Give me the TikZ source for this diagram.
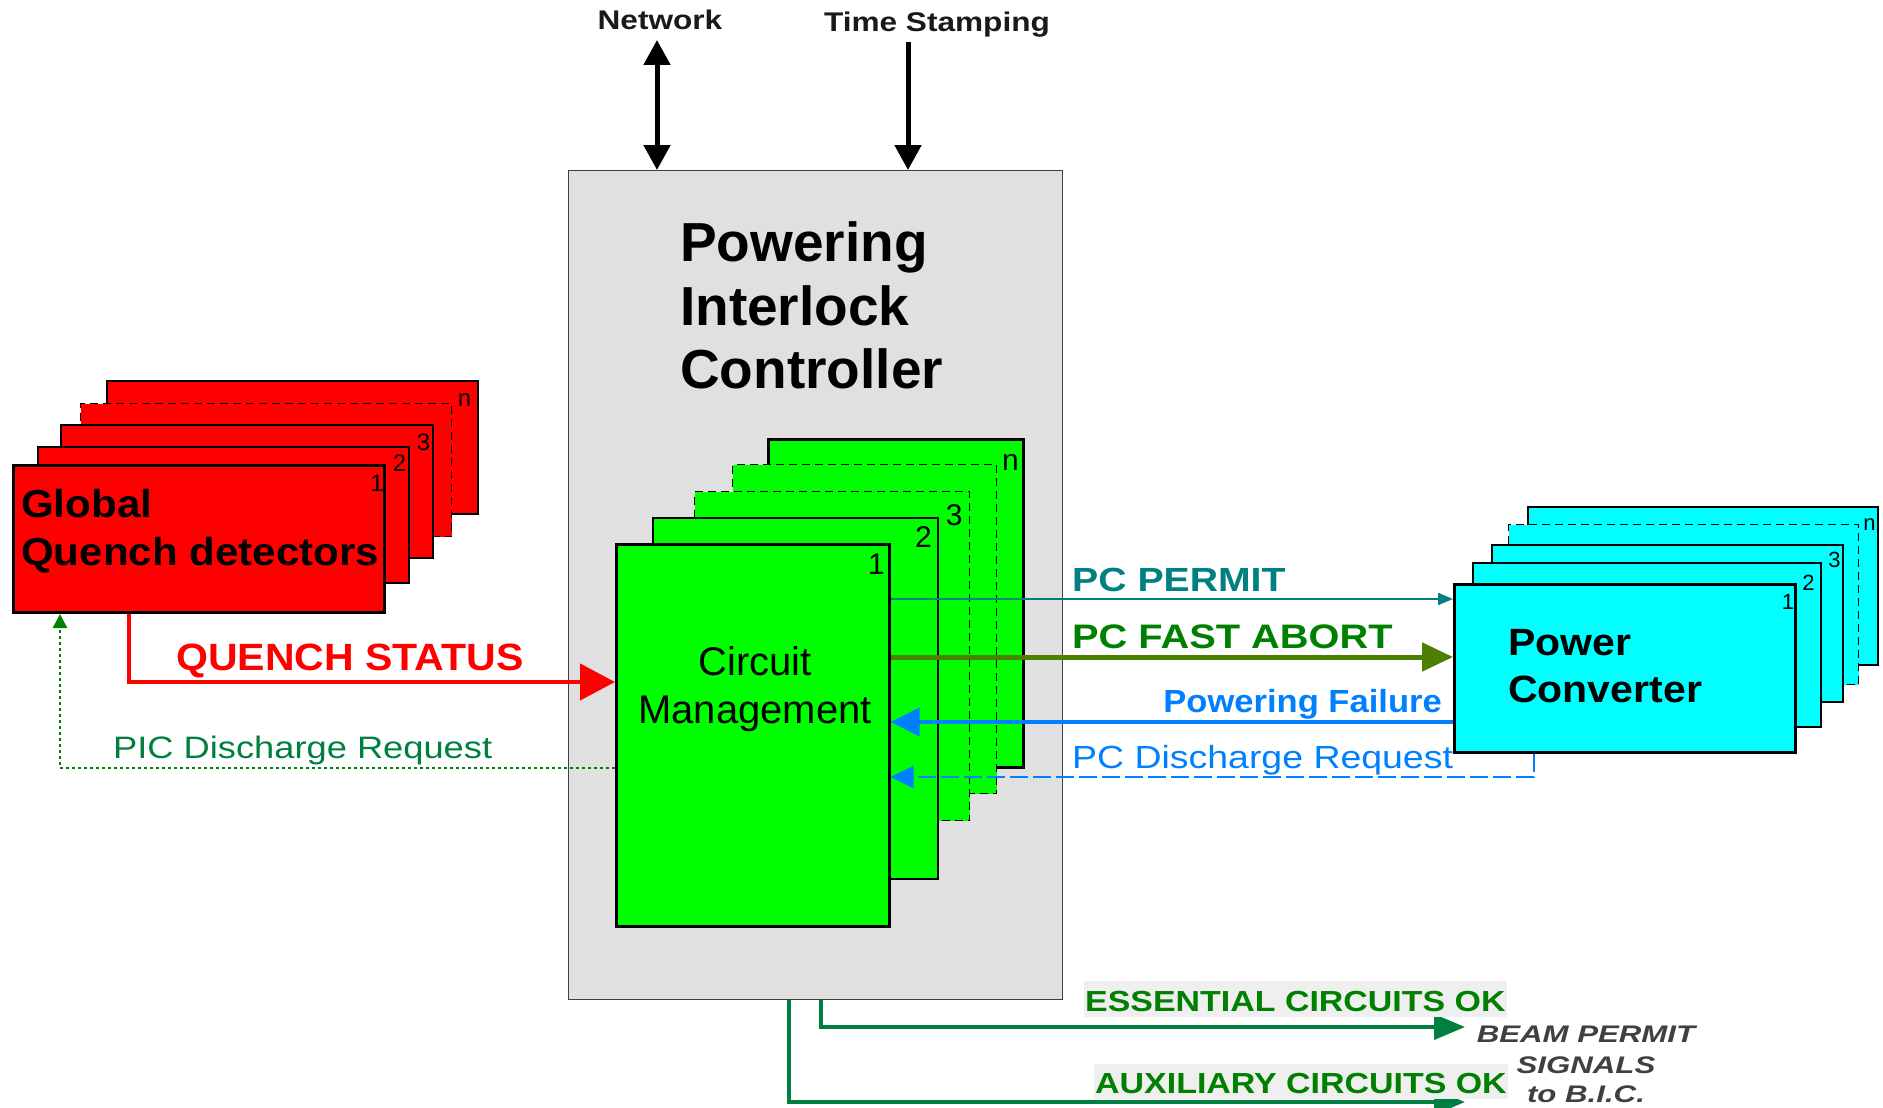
\documentclass[tikz,border=0pt]{standalone}
\usepackage{fontspec}
\setmainfont{Liberation Sans}
\newfontfamily\fwideA[FakeStretch=1.08]{Liberation Sans}
\newfontfamily\fwideB[FakeStretch=1.17]{Liberation Sans}
\newfontfamily\fwideC[FakeStretch=1.3]{Liberation Sans}
\usepackage{tikz}
\usetikzlibrary{arrows.meta,positioning}
\definecolor{qdred}{HTML}{FF0000}
\definecolor{cmgreen}{HTML}{00FF00}
\definecolor{pccyan}{HTML}{00FFFF}
\definecolor{picgray}{HTML}{E0E0E0}
\definecolor{permitteal}{HTML}{008080}
\definecolor{abortolive}{HTML}{4D8000}
\definecolor{aborttext}{HTML}{008000}
\definecolor{failblue}{HTML}{0080FF}
\definecolor{dotgreen}{HTML}{008000}
\definecolor{picgreen}{HTML}{008040}
\definecolor{okgreen}{HTML}{008040}
\definecolor{oktext}{HTML}{008000}
\definecolor{okbg}{HTML}{EFEFEF}
\definecolor{bicgray}{HTML}{404040}
\definecolor{toptext}{HTML}{1A1A1A}
\tikzset{>=Triangle,
	picbox/.style={draw=black!75,fill=picgray,line width=1.2pt,anchor=north west,inner sep=0pt},
	qdbox/.style={draw=black,fill=qdred,line width=1.5pt,anchor=north west,inner sep=0pt},
	cmbox/.style={draw=black,fill=cmgreen,line width=1.5pt,anchor=north west,inner sep=0pt},
	pcbox/.style={draw=black,fill=pccyan,line width=1.5pt,anchor=north west,inner sep=0pt},
	frontbox/.style={line width=3pt},
	dashedbox/.style={line width=1.2pt,dash pattern=on 8pt off 5pt},
	qdtag/.style={inner sep=0pt,font=\fontsize{24}{28}\selectfont},
	cmtag/.style={inner sep=0pt,font=\fontsize{30}{34}\selectfont},
	pctag/.style={inner sep=0pt,font=\fontsize{22}{26}\selectfont},
	lbl/.style={inner sep=0pt,anchor=base west},
	okbox/.style={fill=okbg,text=oktext,anchor=base west,inner xsep=1pt,inner ysep=0pt,
		font=\fwideB\bfseries\fontsize{29}{34}\selectfont},
	netarrow/.style={draw=black,line width=5pt,{Triangle[length=25pt,width=26pt]}-{Triangle[length=25pt,width=26pt]}},
	tsarrow/.style={draw=black,line width=5pt,-{Triangle[length=25pt,width=26pt]}},
	quench/.style={draw=qdred,line width=4.5pt,-{Triangle[length=35pt,width=36pt]}},
	picreq/.style={draw=dotgreen,line width=2.5pt,dash pattern=on 3pt off 3pt,-{Triangle[length=14pt,width=14pt]}},
	permit/.style={draw=permitteal,line width=2pt,-{Triangle[length=15pt,width=12pt]}},
	abort/.style={draw=abortolive,line width=5pt,-{Triangle[length=31pt,width=28pt]}},
	failure/.style={draw=failblue,line width=4pt,-{Triangle[length=29pt,width=28pt]}},
	pcreq/.style={draw=failblue,line width=2.5pt,dash pattern=on 18pt off 5pt,-{Triangle[length=23pt,width=22pt]}},
	okline/.style={draw=okgreen,line width=4pt,-{Triangle[length=31pt,width=25pt]}}}
\begin{document}
\begin{tikzpicture}[x=1pt,y=-1pt]
	\useasboundingbox (0,0) rectangle (1883,1108);
	\fill [white] (0,0) rectangle (1883,1108);
	% controller
	\node (pic) at (568,170) [picbox, minimum width=494pt, minimum height=829pt] {};
	\node (title1) at (680,261) [lbl, font=\bfseries\fontsize{55}{64}\selectfont] {Powering};
	\node (title2) at (680,325) [lbl, font=\bfseries\fontsize{55}{64}\selectfont] {Interlock};
	\node (title3) at (680,388) [lbl, font=\bfseries\fontsize{55}{64}\selectfont] {Controller};
	% quench detectors
	\node (qdn) at (106,380) [qdbox, minimum width=371pt, minimum height=133pt] {};
	\node (qd4) at (80,403) [qdbox, dashedbox, minimum width=371pt, minimum height=133pt] {};
	\node (qd3) at (60,424) [qdbox, minimum width=372pt, minimum height=133pt] {};
	\node (qd2) at (37,446) [qdbox, minimum width=371pt, minimum height=136pt] {};
	\node (qd1) at (12,464) [qdbox, frontbox, minimum width=371pt, minimum height=147pt] {};
	\node (qd1tag) at ([xshift=-9pt,yshift=-19pt]qd1.north east) [qdtag] {1};
	\node (qd2tag) at ([xshift=-10pt,yshift=-17pt]qd2.north east) [qdtag] {2};
	\node (qd3tag) at ([xshift=-10pt,yshift=-18pt]qd3.north east) [qdtag] {3};
	\node (qdntag) at ([xshift=-14pt,yshift=-20pt]qdn.north east) [qdtag] {n};
	\node (qdtxt1) at (21,517) [lbl, font=\fwideA\bfseries\fontsize{39}{47}\selectfont] {Global};
	\node (qdtxt2) at (21,565) [lbl, font=\fwideA\bfseries\fontsize{39}{47}\selectfont] {Quench detectors};
	% circuit management
	\node (cmn) at (767,438) [cmbox, line width=2.5pt, minimum width=255pt, minimum height=328pt] {};
	\node (cm4) at (732,464) [cmbox, dashedbox, minimum width=264pt, minimum height=329pt] {};
	\node (cm3) at (694,491) [cmbox, dashedbox, minimum width=275pt, minimum height=329pt] {};
	\node (cm2) at (652,517) [cmbox, minimum width=285pt, minimum height=361pt] {};
	\node (cm1) at (615,543) [cmbox, line width=2.5pt, minimum width=273pt, minimum height=382pt] {};
	\node (cm1tag) at ([xshift=-14pt,yshift=-21pt]cm1.north east) [cmtag] {1};
	\node (cm2tag) at ([xshift=-15pt,yshift=-20pt]cm2.north east) [cmtag] {2};
	\node (cm3tag) at ([xshift=-16pt,yshift=-24pt]cm3.north east) [cmtag] {3};
	\node (cmntag) at ([xshift=-14pt,yshift=-24pt]cmn.north east) [cmtag] {n};
	\node (cmtxt1) at (755,675) [lbl, anchor=base, font=\fontsize{40}{48}\selectfont] {Circuit};
	\node (cmtxt2) at (755,723) [lbl, anchor=base, font=\fontsize{40}{48}\selectfont] {Management};
	% power converters
	\node (pcn) at (1527,506) [pcbox, minimum width=350pt, minimum height=158pt] {};
	\node (pc4) at (1508,524) [pcbox, dashedbox, minimum width=350pt, minimum height=160pt] {};
	\node (pc3) at (1491,544) [pcbox, minimum width=351pt, minimum height=157pt] {};
	\node (pc2) at (1472,562) [pcbox, minimum width=348pt, minimum height=164pt] {};
	\node (pc1) at (1453,583) [pcbox, frontbox, minimum width=341pt, minimum height=168pt] {};
	\node (pc1tag) at ([xshift=-9pt,yshift=-19pt]pc1.north east) [pctag] {1};
	\node (pc2tag) at ([xshift=-13pt,yshift=-21pt]pc2.north east) [pctag] {2};
	\node (pc3tag) at ([xshift=-9pt,yshift=-16pt]pc3.north east) [pctag] {3};
	\node (pcntag) at ([xshift=-9pt,yshift=-19pt]pcn.north east) [pctag] {n};
	\node (pctxt1) at (1508,655) [lbl, font=\fwideA\bfseries\fontsize{38}{47}\selectfont] {Power};
	\node (pctxt2) at (1508,702) [lbl, font=\fwideA\bfseries\fontsize{38}{47}\selectfont] {Converter};
	% network and timing
	\coordinate (nettop) at (657,40);
	\coordinate (tstop) at (908,42);
	\draw [netarrow] (nettop) -- (pic.north -| nettop);
	\draw [tsarrow] (tstop) -- (pic.north -| tstop);
	\node (nettxt) at (660,30) [lbl, anchor=base, text=toptext, font=\fwideB\bfseries\fontsize{27}{31}\selectfont] {Network};
	\node (tstxt) at (937,32) [lbl, anchor=base, text=toptext, font=\fwideB\bfseries\fontsize{27}{31}\selectfont] {Time Stamping};
	% quench detector links
	\coordinate (qsbend) at (129,682);
	\draw [quench] (qd1.south -| qsbend) -- (qsbend) -- (cm1.west |- qsbend);
	\node (qstxt) at (176,670) [lbl, text=qdred, font=\fwideA\bfseries\fontsize{38}{46}\selectfont] {QUENCH STATUS};
	\coordinate (picbend) at (60,768);
	\draw [picreq] (cm1.west |- picbend) -- (picbend) -- (qd1.south -| picbend);
	\node (pictxt) at (113,758) [lbl, text=picgreen, font=\fwideB\fontsize{31}{37}\selectfont] {PIC Discharge Request};
	% power converter links
	\coordinate (permitlane) at (1200,599);
	\coordinate (abortlane) at (1200,657);
	\coordinate (faillane) at (1200,722);
	\coordinate (pcreqbend) at (1534,777);
	\draw [permit] (cm1.east |- permitlane) -- (pc1.west |- permitlane);
	\draw [abort] (cm1.east |- abortlane) -- (pc1.west |- abortlane);
	\draw [failure] (pc1.west |- faillane) -- (cm1.east |- faillane);
	\draw [pcreq] (pc1.south -| pcreqbend) -- (pcreqbend) -- (cm1.east |- pcreqbend);
	\node (permittxt) at (1072,591) [lbl, text=permitteal, font=\fwideB\bfseries\fontsize{33.5}{40}\selectfont] {PC PERMIT};
	\node (aborttxt) at (1072,648) [lbl, text=aborttext, font=\fwideB\bfseries\fontsize{34}{40}\selectfont] {PC FAST ABORT};
	\node (failtxt) at (1442,712) [lbl, anchor=base east, text=failblue, font=\fwideA\bfseries\fontsize{32}{38}\selectfont] {Powering Failure};
	\node (pcreqtxt) at (1072,768) [lbl, text=failblue, font=\fwideB\fontsize{32}{38}\selectfont] {PC Discharge Request};
	% beam permit outputs
	\coordinate (essbend) at (821,1027);
	\coordinate (bicess) at (1465,1027);
	\coordinate (auxbend) at (789,1102);
	\coordinate (bicaux) at (1465,1102);
	\draw [okline] (pic.south -| essbend) -- (essbend) -- (bicess);
	\draw [okline] (pic.south -| auxbend) -- (auxbend) -- (bicaux);
	\node (esstxt) at (1084,1011) [okbox, text height=30pt, text depth=6pt] {ESSENTIAL CIRCUITS OK};
	\node (auxtxt) at (1094,1093) [okbox, text height=29pt, text depth=6pt] {AUXILIARY CIRCUITS OK};
	\node (bictxt1) at (1586,1042) [lbl, anchor=base, text=bicgray, font=\fwideC\bfseries\itshape\fontsize{24}{30}\selectfont] {BEAM PERMIT};
	\node (bictxt2) at (1586,1073) [lbl, anchor=base, text=bicgray, font=\fwideC\bfseries\itshape\fontsize{24}{30}\selectfont] {SIGNALS};
	\node (bictxt3) at (1586,1102) [lbl, anchor=base, text=bicgray, font=\fwideC\bfseries\itshape\fontsize{24}{30}\selectfont] {to B.I.C.};
\end{tikzpicture}
\end{document}
